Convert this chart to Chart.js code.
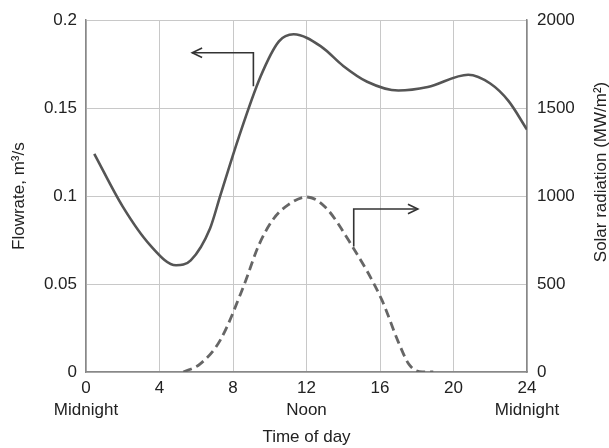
<!DOCTYPE html>
<html lang="en">
<head>
    <meta charset="UTF-8">
    <title>Flowrate and solar radiation</title>
    <style>
        html, body { margin: 0; padding: 0; background: #fff; }
        #wrap { width: 609px; height: 448px; }
    </style>
</head>
<body>
    <div id="wrap">
        <canvas id="myChart" width="609" height="448"></canvas>
    </div>

    <script src="https://cdn.jsdelivr.net/npm/chart.js"></script>

    <script>
        // values (hours of the day)
        var flowHours = [0.45, 2.0, 3.5, 4.9, 5.7, 6.75, 7.3, 8.3, 9.5, 10.5, 11.3, 12.8, 14.0, 15.3, 17.0, 18.6, 20.8, 22.0, 23.0, 24.0];
        var flowrate = [0.124, 0.094, 0.072, 0.0607, 0.0635, 0.0816, 0.100, 0.133, 0.168, 0.188, 0.192, 0.185, 0.174, 0.165, 0.160, 0.162, 0.169, 0.164, 0.154, 0.1378];

        var solarHours = [5.3, 6.2, 7.3, 8.6, 9.4, 10.2, 11.0, 12.0, 13.0, 14.5, 16.1, 17.0, 17.6, 18.3, 18.9];
        var solar = [0, 45, 180, 494, 720, 870, 950, 995, 940, 713, 410, 170, 40, 0, 0];

        var xTickValues = [0, 4, 8, 12, 16, 20, 24];
        var xTickNames = ['Midnight', '', '', 'Noon', '', '', 'Midnight'];
        var flowTicks = ['0', '0.05', '0.1', '0.15', '0.2'];
        var solarTicks = ['0', '500', '1000', '1500', '2000'];

        // arrow paths in data units, tip is the marked end
        var flowArrow = [[5.78, 0.1815], [9.11, 0.1815], [9.11, 0.1624]];
        var solarArrow = [[14.57, 713], [14.57, 927], [18.06, 927]];

        var FONT = 'Liberation Sans, Arial, Helvetica, sans-serif';
        var TEXT = '#222';

        function toPoints(xs, ys) {
            var pts = [];
            for (var i = 0; i < xs.length; i++) {
                pts.push({x: xs[i], y: ys[i]});
            }
            return pts;
        }

        function drawArrow(ctx, chart, path, yId, tipFirst) {
            var xs = chart.scales.x, ys = chart.scales[yId];
            var p = path.map(function (d) {
                return [xs.getPixelForValue(d[0]), ys.getPixelForValue(d[1])];
            });
            ctx.save();
            ctx.strokeStyle = '#333';
            ctx.lineWidth = 1.6;
            ctx.beginPath();
            ctx.moveTo(p[0][0], p[0][1]);
            for (var i = 1; i < p.length; i++) ctx.lineTo(p[i][0], p[i][1]);
            ctx.stroke();
            var tip = tipFirst ? p[0] : p[p.length - 1];
            var prev = tipFirst ? p[1] : p[p.length - 2];
            var a = Math.atan2(tip[1] - prev[1], tip[0] - prev[0]);
            ctx.beginPath();
            ctx.moveTo(tip[0] - 11 * Math.cos(a - 0.45), tip[1] - 11 * Math.sin(a - 0.45));
            ctx.lineTo(tip[0], tip[1]);
            ctx.lineTo(tip[0] - 11 * Math.cos(a + 0.45), tip[1] - 11 * Math.sin(a + 0.45));
            ctx.stroke();
            ctx.restore();
        }

        var extras = {
            id: 'extras',
            afterDatasetsDraw: function (chart) {
                var ctx = chart.ctx;
                drawArrow(ctx, chart, flowArrow, 'y', true);
                drawArrow(ctx, chart, solarArrow, 'y2', false);
                // right axis title, reads upwards like the left one
                ctx.save();
                ctx.translate(601, 172);
                ctx.rotate(-Math.PI / 2);
                ctx.fillStyle = TEXT;
                ctx.font = '17px ' + FONT;
                ctx.textAlign = 'center';
                ctx.textBaseline = 'middle';
                ctx.fillText('Solar radiation (MW/m\u00B2)', 0, 0);
                ctx.restore();
            }
        };

        const ctx = document.getElementById('myChart');

        const myChart = new Chart(ctx, {
            type: 'line',
            data: {
                datasets: [{
                    label: 'Flowrate',
                    data: toPoints(flowHours, flowrate),
                    yAxisID: 'y',
                    borderColor: '#555',
                    borderWidth: 2.6,
                    pointRadius: 0,
                    cubicInterpolationMode: 'monotone',
                    fill: false
                }, {
                    label: 'Solar radiation',
                    data: toPoints(solarHours, solar),
                    yAxisID: 'y2',
                    borderColor: '#666',
                    borderWidth: 2.8,
                    borderDash: [9, 5],
                    pointRadius: 0,
                    cubicInterpolationMode: 'monotone',
                    fill: false
                }]
            },
            options: {
                responsive: false,
                animation: false,
                events: [],
                layout: { padding: { top: 16, left: 0, right: 0, bottom: 0 } },
                plugins: {
                    legend: { display: false },
                    tooltip: { enabled: false }
                },
                scales: {
                    x: {
                        type: 'linear',
                        min: 0,
                        max: 24,
                        afterBuildTicks: function (scale) {
                            scale.ticks = xTickValues.map(function (v) { return {value: v}; });
                        },
                        afterFit: function (scale) { scale.height = 76; },
                        grid: { color: '#c8c8c8', lineWidth: 1, drawTicks: false },
                        border: { color: '#888', width: 1.5 },
                        ticks: {
                            padding: 5,
                            color: TEXT,
                            font: { family: FONT, size: 17, lineHeight: 1.3 },
                            maxRotation: 0,
                            callback: function (value) {
                                var i = xTickValues.indexOf(value);
                                if (i < 0) return '';
                                return xTickNames[i] ? [String(value), xTickNames[i]] : String(value);
                            }
                        },
                        title: {
                            display: true,
                            text: 'Time of day',
                            color: TEXT,
                            font: { family: FONT, size: 17 },
                            padding: { top: 0, bottom: 0 }
                        }
                    },
                    y: {
                        position: 'left',
                        min: 0,
                        max: 0.2,
                        afterBuildTicks: function (scale) {
                            scale.ticks = flowTicks.map(function (t) { return {value: parseFloat(t)}; });
                        },
                        afterFit: function (scale) { scale.width = 86; },
                        grid: { color: '#c8c8c8', lineWidth: 1, drawTicks: false },
                        border: { color: '#888', width: 1.5 },
                        ticks: {
                            padding: 9,
                            color: TEXT,
                            font: { family: FONT, size: 17 },
                            callback: function (value, index) { return flowTicks[index]; }
                        },
                        title: {
                            display: true,
                            text: 'Flowrate, m\u00B3/s',
                            color: TEXT,
                            font: { family: FONT, size: 17 },
                            padding: { top: 9, bottom: 0 }
                        }
                    },
                    y2: {
                        position: 'right',
                        min: 0,
                        max: 2000,
                        afterBuildTicks: function (scale) {
                            scale.ticks = solarTicks.map(function (t) { return {value: parseFloat(t)}; });
                        },
                        afterFit: function (scale) { scale.width = 82; },
                        grid: { display: false, drawTicks: false },
                        border: { color: '#888', width: 1.5 },
                        ticks: {
                            padding: 10,
                            color: TEXT,
                            font: { family: FONT, size: 17 },
                            callback: function (value, index) { return solarTicks[index]; }
                        }
                    }
                }
            },
            plugins: [extras]
        });
    </script>
</body>
</html>
